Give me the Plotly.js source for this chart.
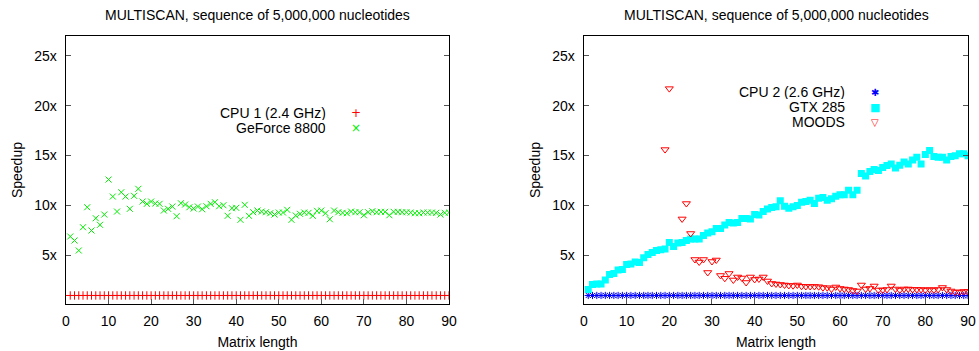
<!DOCTYPE html>
<html>
<head>
<meta charset="utf-8">
<script src="https://cdn.plot.ly/plotly-3.0.1.min.js"></script>
<style>
html,body{margin:0;padding:0;background:#fff;}
#chart{width:979px;height:351px;}
</style>
</head>
<body>
<div id="chart"></div>
<script>
// ---- data ----
const matrixLength = Array.from({length: 90}, (_, i) => i + 1);

const cpu1 = new Array(90).fill(1.0);

const geforce8800 = [
  6.9, 6.5, 5.5, 7.83, 9.83, 7.5, 8.73, 8.07, 9.1, 12.6,
  10.9, 9.4, 11.33, 10.9, 9.67, 10.97, 11.67, 10.4, 10.17, 10.4,
  10.2, 10.17, 9.5, 9.67, 9.9, 8.93, 10.23, 10.1, 9.83, 9.7,
  9.9, 9.63, 9.93, 10.17, 10.33, 9.93, 10.03, 8.97, 9.73, 9.77,
  8.57, 10.07, 8.97, 9.33, 9.5, 9.4, 9.33, 9.23, 9.1, 9.3,
  9.3, 9.57, 8.57, 9.0, 9.17, 9.3, 9.27, 8.97, 9.47, 9.5,
  9.23, 8.63, 9.5, 9.33, 9.27, 9.23, 9.4, 9.33, 9.33, 9.03,
  9.33, 9.43, 9.33, 9.37, 9.37, 9.03, 9.37, 9.37, 9.33, 9.33,
  9.3, 9.23, 9.23, 9.3, 9.3, 9.3, 9.27, 9.1, 9.27, 9.3
];

const cpu2 = new Array(90).fill(1.0);

const gtx285 = [
  1.6, 2.1, 2.15, 2.15, 2.55, 3.1, 3.2, 3.55, 3.6, 4.1,
  4.16, 4.36, 4.3, 4.77, 5.1, 5.3, 5.5, 5.57, 5.64, 6.3,
  5.9, 6.24, 6.3, 6.5, 6.64, 6.64, 6.64, 7.0, 7.25, 7.38,
  7.7, 7.7, 8.05, 8.3, 8.25, 8.3, 8.7, 8.7, 8.66, 9.1,
  9.06, 9.4, 9.66, 9.8, 9.87, 10.47, 9.93, 9.73, 9.87, 10.0,
  10.34, 10.4, 10.54, 10.2, 10.74, 10.8, 10.54, 10.67, 10.94, 11.07,
  11.07, 11.54, 11.07, 11.54, 13.2, 12.95, 13.4, 13.6, 13.5, 13.8,
  14.0, 14.16, 13.76, 14.03, 14.36, 14.16, 14.56, 14.83, 14.16, 15.1,
  15.5, 14.9, 14.83, 14.83, 14.56, 14.9, 14.97, 15.17, 15.17, 14.97
];

const moods = [
  null, null, null, null, null, null, null, null, null, null,
  null, null, null, null, null, null, null, null, 15.6, 21.7,
  null, null, 8.66, 10.2, 7.2, 4.6, 4.35, 4.6, 3.3, 4.4,
  4.55, 3.0, 2.72, 3.2, 2.55, 2.85, 2.75, 2.3, 2.85, 2.6,
  2.65, 2.85, 2.45, 2.2, 2.15, 2.1, 2.05, 2.0, 1.98, 2.05,
  1.92, 1.9, 1.9, 1.9, 1.88, 1.78, 1.78, 1.65, 1.85, 1.7,
  1.65, 1.6, 1.5, 1.45, 2.05, 1.65, 1.7, 1.95, 1.55, 1.55,
  1.6, 1.95, 1.65, 1.55, 1.65, 1.65, 1.6, 1.6, 1.6, 1.55,
  1.6, 1.55, 1.6, 1.8, 1.6, 1.45, 1.35, 1.35, 1.4, 1.4
];

const xTickVals = [0, 10, 20, 30, 40, 50, 60, 70, 80, 90];
const yTickVals = [5, 10, 15, 20, 25];
const yTickText = ['5x', '10x', '15x', '20x', '25x'];
const chartTitle = 'MULTISCAN, sequence of 5,000,000 nucleotides';
const leftNames = ['CPU 1 (2.4 GHz)', 'GeForce 8800'];
const rightNames = ['CPU 2 (2.6 GHz)', 'GTX 285', 'MOODS'];

// ---- traces ----
const traces = [
  {x: matrixLength, y: cpu1, name: leftNames[0], type: 'scatter', mode: 'markers',
   xaxis: 'x', yaxis: 'y',
   marker: {symbol: 'cross-thin-open', size: 6, color: '#ff0000', line: {color: '#ff0000', width: 1}}},
  {x: matrixLength, y: geforce8800, name: leftNames[1], type: 'scatter', mode: 'markers',
   xaxis: 'x', yaxis: 'y',
   marker: {symbol: 'x-thin-open', size: 6, color: '#00ee00', line: {color: '#00ee00', width: 1}}},
  {x: matrixLength, y: cpu2, name: rightNames[0], type: 'scatter', mode: 'markers',
   xaxis: 'x2', yaxis: 'y2',
   marker: {symbol: 'asterisk-open', size: 6, color: '#0000ff', line: {color: '#0000ff', width: 1}}},
  {x: matrixLength, y: gtx285, name: rightNames[1], type: 'scatter', mode: 'markers',
   xaxis: 'x2', yaxis: 'y2',
   marker: {symbol: 'square', size: 7, color: '#00ffff', line: {width: 0}}},
  {x: matrixLength, y: moods, name: rightNames[2], type: 'scatter', mode: 'markers',
   xaxis: 'x2', yaxis: 'y2',
   marker: {symbol: 'triangle-down-open', size: 7, color: '#ff0000', line: {color: '#ff0000', width: 1}}}
];

const font = {family: '"Liberation Sans", Arial, sans-serif', size: 14, color: '#000'};

function xAxis(domain, anchor) {
  return {
    domain: domain, anchor: anchor, range: [0, 90],
    tickvals: xTickVals, ticks: 'inside', ticklen: 5, tickcolor: '#555', tickwidth: 1,
    showline: true, linecolor: '#000', linewidth: 1.3, mirror: true,
    showgrid: false, zeroline: false,
    tickfont: font, ticklabelstandoff: 4,
    title: {text: 'Matrix length', font: font, standoff: 9}
  };
}
function yAxis(anchor) {
  return {
    domain: [0.134, 0.897], anchor: anchor, range: [0.15, 26.95],
    tickvals: yTickVals, ticktext: yTickText, ticks: 'inside', ticklen: 5, tickcolor: '#555', tickwidth: 1,
    showline: true, linecolor: '#000', linewidth: 1.3, mirror: 'ticks',
    showgrid: false, zeroline: false,
    tickfont: font, ticklabelstandoff: 5,
    title: {text: 'Speedup', font: font, standoff: 8}
  };
}

function legendAnn(text, xText, xMark, y, glyph, color, glyphSize) {
  return [
    {xref: 'paper', yref: 'paper', x: xText / 979, y: 1 - y / 351, xanchor: 'right', yanchor: 'middle',
     text: text, showarrow: false, font: font, height: 14, valign: 'middle', borderpad: 0},
    {xref: 'paper', yref: 'paper', x: xMark / 979, y: 1 - y / 351, xanchor: 'center', yanchor: 'middle',
     text: glyph, showarrow: false, font: {family: 'DejaVu Sans', size: glyphSize, color: color},
     height: 12, borderpad: 0}
  ];
}

const annotations = [
  {xref: 'paper', yref: 'paper', x: 257.5 / 979, y: 1 - 15 / 351, xanchor: 'center', yanchor: 'middle',
   text: chartTitle, showarrow: false, font: font},
  {xref: 'paper', yref: 'paper', x: 776 / 979, y: 1 - 15 / 351, xanchor: 'center', yanchor: 'middle',
   text: chartTitle, showarrow: false, font: font}
].concat(
  legendAnn(leftNames[0], 327, 356, 113, '+', '#ff0000', 12),
  legendAnn(leftNames[1], 327, 356, 128, '×', '#00ee00', 12),
  legendAnn(rightNames[0], 846, 875, 92, '✱', '#0000ff', 10),
  legendAnn(rightNames[1], 846, 875, 107, '■', '#00ffff', 11),
  legendAnn(rightNames[2], 846, 875, 122, '▽', '#ff0000', 10)
);

const layout = {
  width: 979, height: 351,
  margin: {l: 0, r: 0, t: 0, b: 0},
  paper_bgcolor: '#fff', plot_bgcolor: '#fff',
  showlegend: false,
  font: font,
  xaxis: xAxis([0.0674, 0.4586], 'y'),
  yaxis: yAxis('x'),
  xaxis2: xAxis([0.5965, 0.9888], 'y2'),
  yaxis2: yAxis('x2'),
  annotations: annotations
};

Plotly.newPlot('chart', traces, layout, {displayModeBar: false, staticPlot: true});
</script>
</body>
</html>
